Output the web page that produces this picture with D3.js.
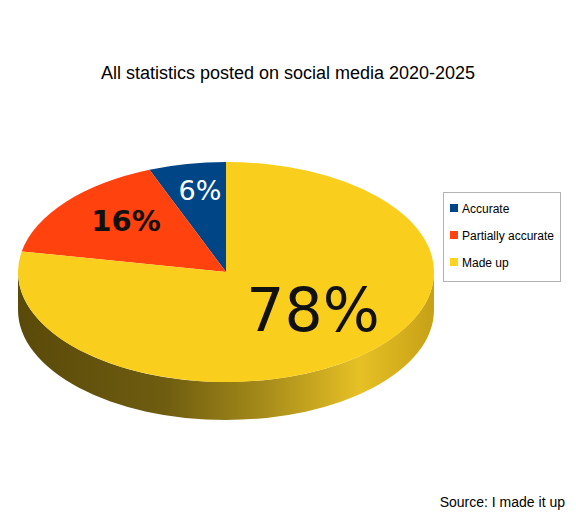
<!DOCTYPE html>
<html><head><meta charset="utf-8">
<script src="https://cdn.jsdelivr.net/npm/d3@7/dist/d3.min.js"></script>
<style>body{margin:0;background:#fff}</style>
</head><body>
<script>
const categories = ["Accurate", "Partially accurate", "Made up"];
const values = [6, 16, 78];
const labels = ["6%", "16%", "78%"];
const colors = ["#004586", "#ff420e", "#f9ce1d"];

(function () {
const W = 576, H = 512;
const svg = d3.select("body").append("svg").attr("width", W).attr("height", H)
  .style("font-family", "Liberation Sans, Arial, sans-serif");

const cx = 226, cy = 272, rx = 208, ry = 110, depth = 38;

const defs = svg.append("defs");
const g = defs.append("linearGradient").attr("id", "side").attr("x1", "0").attr("x2", "1");
[["0%", "#5a4a0a"], ["35%", "#6e5c10"], ["60%", "#a88d1a"], ["82%", "#e6c025"], ["100%", "#c7a116"]]
  .forEach(([o, c]) => g.append("stop").attr("offset", o).attr("stop-color", c));

svg.append("path")
  .attr("d", `M${cx - rx},${cy} A${rx} ${ry} 0 0 0 ${cx + rx},${cy} L${cx + rx},${cy + depth} A${rx} ${ry} 0 0 1 ${cx - rx},${cy + depth} Z`)
  .attr("fill", "url(#side)");

const pie = d3.pie().sort(null).startAngle(0).endAngle(-2 * Math.PI);
const arcs = pie(values);
const arc = d3.arc().innerRadius(0).outerRadius(ry);
const topG = svg.append("g").attr("transform", `translate(${cx},${cy}) scale(${rx / ry},1)`);
topG.selectAll("path").data(arcs).join("path")
  .attr("d", d => arc({startAngle: Math.min(d.startAngle, d.endAngle), endAngle: Math.max(d.startAngle, d.endAngle)}))
  .attr("fill", (d, i) => colors[i]);

const lab = [
  {x: 200, y: 200, size: 27, fill: "#fff", weight: "normal"},
  {x: 126, y: 231, size: 29, fill: "#111", weight: "bold"},
  {x: 313, y: 331, size: 60, fill: "#111", weight: "normal"}
];
svg.selectAll("text.lbl").data(labels).join("text").attr("class", "lbl")
  .attr("x", (d, i) => lab[i].x).attr("y", (d, i) => lab[i].y)
  .attr("text-anchor", "middle").attr("font-size", (d, i) => lab[i].size)
  .attr("font-weight", (d, i) => lab[i].weight).attr("fill", (d, i) => lab[i].fill)
  .attr("font-family", "DejaVu Sans, sans-serif")
  .text(d => d);

svg.append("text").attr("x", 288).attr("y", 79).attr("text-anchor", "middle")
  .attr("font-size", 18).attr("fill", "#000").text("All statistics posted on social media 2020-2025");

svg.append("rect").attr("x", 443.5).attr("y", 192.5).attr("width", 117).attr("height", 89)
  .attr("fill", "#fff").attr("stroke", "#b3b3b3");
const leg = svg.selectAll("g.leg").data(categories).join("g").attr("class", "leg")
  .attr("transform", (d, i) => `translate(450,${208 + i * 27})`);
leg.append("rect").attr("x", 0).attr("y", -4).attr("width", 8).attr("height", 8)
  .attr("fill", (d, i) => i === 2 ? "#ffd320" : colors[i]);
leg.append("text").attr("x", 12).attr("y", 4.5).attr("font-size", 12).attr("fill", "#000").text(d => d);

svg.append("text").attr("x", 565).attr("y", 507).attr("text-anchor", "end")
  .attr("font-size", 14).attr("fill", "#000").text("Source: I made it up");
})();
</script>
</body></html>
